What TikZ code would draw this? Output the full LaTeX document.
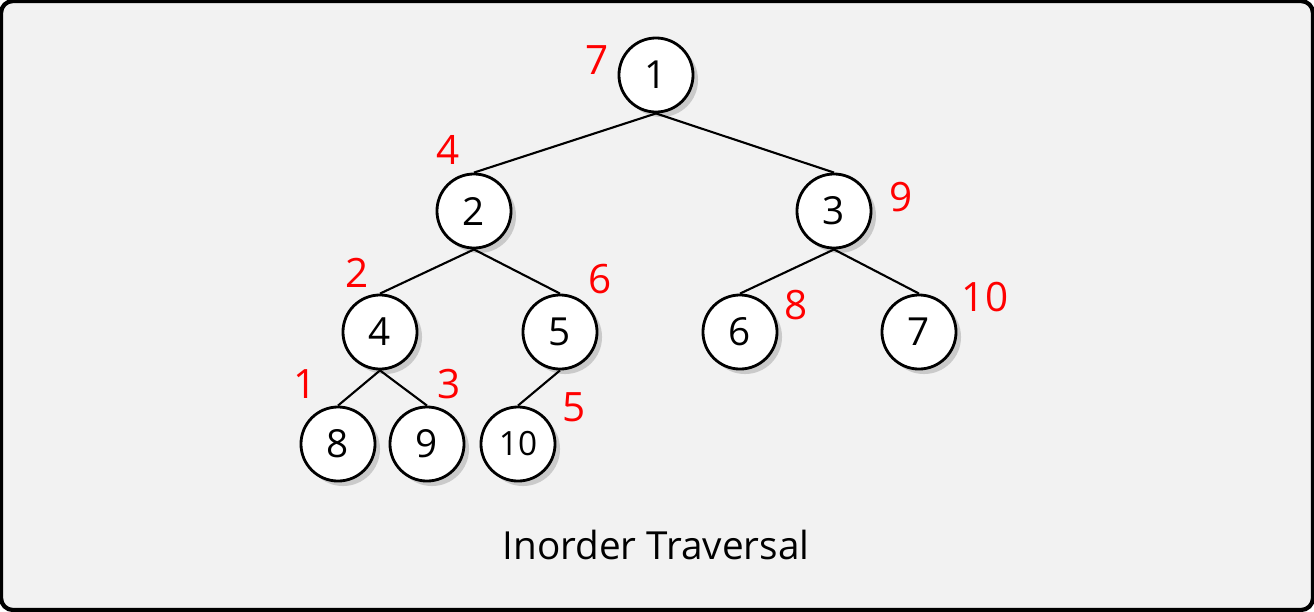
\documentclass[tikz,border=0pt]{standalone}
\usepackage{fontspec}
\setmainfont{Open Sans}
\usetikzlibrary{shadows}
\definecolor{bg}{HTML}{F2F2F2}
\tikzset{
  vert/.style={circle, draw, thick, fill=white, minimum size=0.74cm, inner sep=0pt,
    font=\fontsize{11}{11}\selectfont,
    drop shadow={shadow xshift=0.05cm, shadow yshift=-0.05cm, opacity=0.35}},
  ord/.style={text=red, font=\fontsize{11.5}{11.5}\selectfont}
}
\begin{document}
\begin{tikzpicture}[x=0.01cm,y=-0.01cm]
  \useasboundingbox (0,0) rectangle (1314,611);
  \draw[fill=bg, line width=1.2pt, rounded corners=0.12cm] (1,1) rectangle (1313,610);
  \node (n1) [vert] at (656,75) {1};
  \node (n2) [vert] at (474,211) {2};
  \node (n3) [vert] at (834,211) {3};
  \node (n4) [vert] at (380,332) {4};
  \node (n5) [vert] at (560,332) {5};
  \node (n6) [vert] at (740,332) {6};
  \node (n7) [vert] at (919,332) {7};
  \node (n8) [vert] at (338,444) {8};
  \node (n9) [vert] at (427,444) {9};
  \node (n10) [vert, font=\fontsize{9.5}{9.5}\selectfont] at (518,444) {10};
  \path[draw, semithick]
    (n1.south) edge (n2.north)
               edge (n3.north)
    (n2.south) edge (n4.north)
               edge (n5.north)
    (n3.south) edge (n6.north)
               edge (n7.north)
    (n4.south) edge (n8.north)
               edge (n9.north)
    (n5.south) edge (n10.north);
  \node (o1) [ord] at (597,60) {7};
  \node (o2) [ord] at (448,150) {4};
  \node (o3) [ord] at (901,197) {9};
  \node (o4) [ord] at (357,273) {2};
  \node (o5) [ord] at (600,279) {6};
  \node (o6) [ord] at (796,305) {8};
  \node (o7) [ord] at (985,297) {10};
  \node (o8) [ord] at (305,384) {1};
  \node (o9) [ord] at (449,384) {3};
  \node (o10) [ord] at (574,407) {5};
  \node (cap) at (656,545) {\fontsize{11}{11}\selectfont Inorder Traversal};
\end{tikzpicture}
\end{document}
